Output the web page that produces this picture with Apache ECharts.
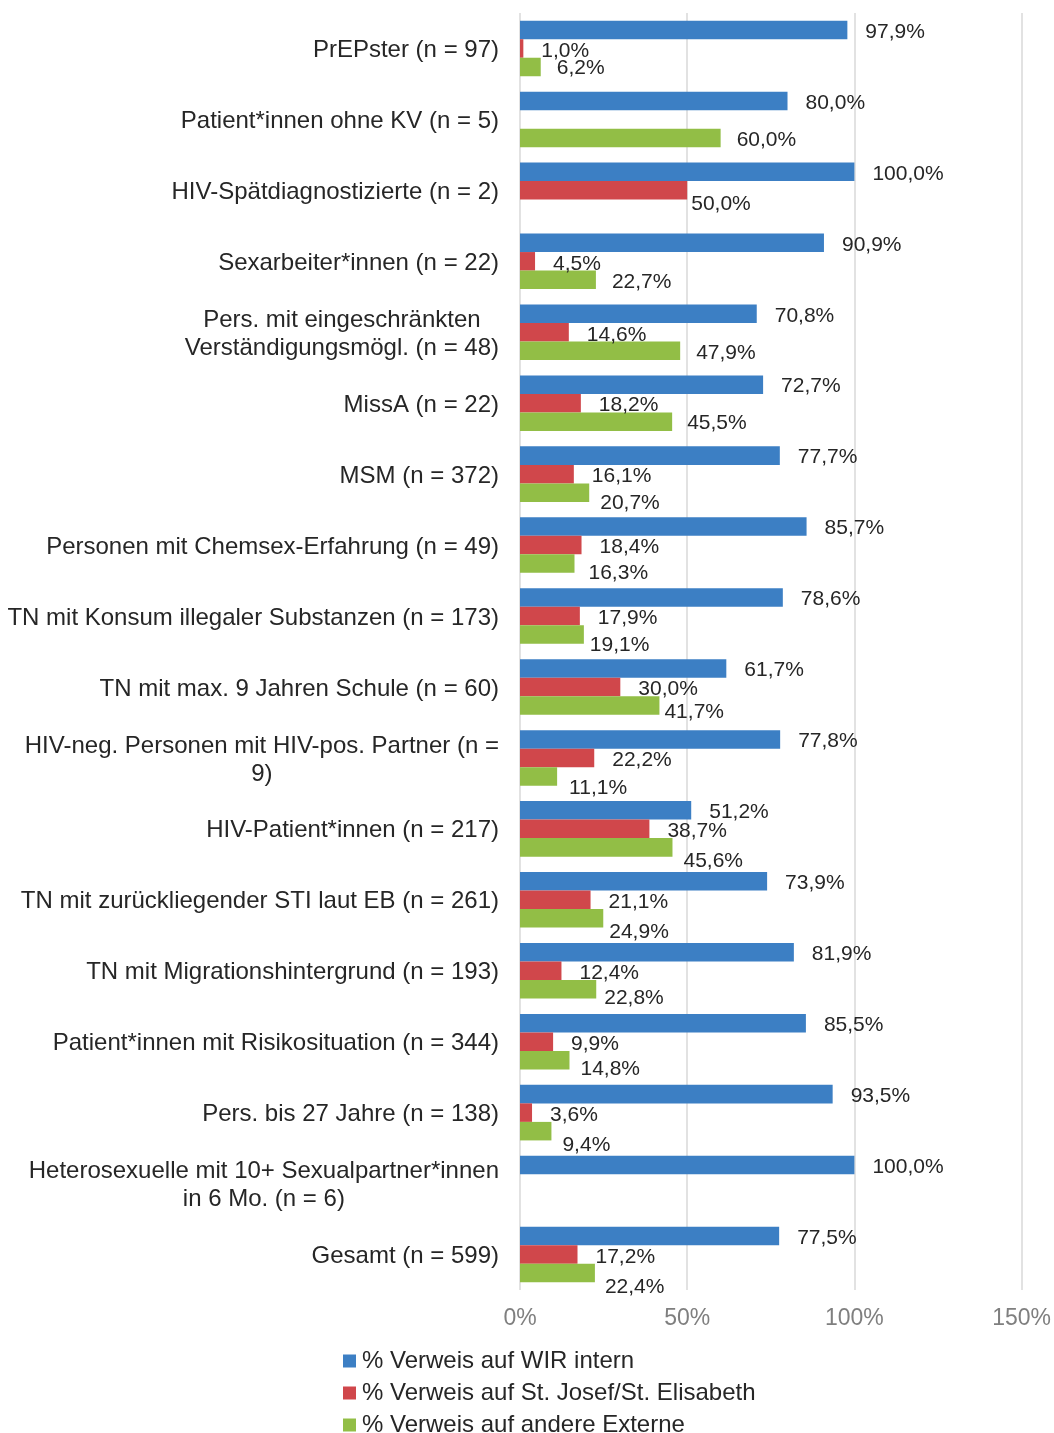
<!DOCTYPE html>
<html>
<head>
<meta charset="utf-8">
<script src="https://cdn.jsdelivr.net/npm/echarts@6/dist/echarts.min.js"></script>
<style>
html,body{margin:0;padding:0;background:#fff;}
#chart{width:1054px;height:1433px;}
</style>
</head>
<body>
<div id="chart"></div>
<script>
const categories = [
  "PrEPster (n = 97)",
  "Patient*innen ohne KV (n = 5)",
  "HIV-Spätdiagnostizierte (n = 2)",
  "Sexarbeiter*innen (n = 22)",
  "Pers. mit eingeschränkten\nVerständigungsmögl. (n = 48)",
  "MissA (n = 22)",
  "MSM (n = 372)",
  "Personen mit Chemsex-Erfahrung (n = 49)",
  "TN mit Konsum illegaler Substanzen (n = 173)",
  "TN mit max. 9 Jahren Schule (n = 60)",
  "HIV-neg. Personen mit HIV-pos. Partner (n =\n9)",
  "HIV-Patient*innen (n = 217)",
  "TN mit zurückliegender STI laut EB (n = 261)",
  "TN mit Migrationshintergrund (n = 193)",
  "Patient*innen mit Risikosituation (n = 344)",
  "Pers. bis 27 Jahre (n = 138)",
  "Heterosexuelle mit 10+ Sexualpartner*innen\nin 6 Mo. (n = 6)",
  "Gesamt (n = 599)"
];
const seriesNames = [
  "% Verweis auf WIR intern",
  "% Verweis auf St. Josef/St. Elisabeth",
  "% Verweis auf andere Externe"
];
const wirIntern = [97.9, 80.0, 100.0, 90.9, 70.8, 72.7, 77.7, 85.7, 78.6, 61.7, 77.8, 51.2, 73.9, 81.9, 85.5, 93.5, 100.0, 77.5];
const stJosef   = [1.0, 0, 50.0, 4.5, 14.6, 18.2, 16.1, 18.4, 17.9, 30.0, 22.2, 38.7, 21.1, 12.4, 9.9, 3.6, 0, 17.2];
const andereExterne = [6.2, 60.0, 0, 22.7, 47.9, 45.5, 20.7, 16.3, 19.1, 41.7, 11.1, 45.6, 24.9, 22.8, 14.8, 9.4, 0, 22.4];
const xTicks = [0, 50, 100, 150];

// label layout nudges (styling only, not data)
const greenDx = [-2,-2,0,-2,-2,-3,-7,-4,-12,-13,-6,-7,-12,-10,-7,-7,0,-8];
const greenDy = [1.5,2,0,2,2,1,11,10,11,7,12,14,14,9,9,14,0,14];

const colors = ['#3C7FC4', '#D0474B', '#92BE46'];
const FONT = '"Liberation Sans", Arial, sans-serif';

function fmt(v) {
  if (!v) return '';
  return v.toFixed(1).replace('.', ',') + '%';
}

function buildData(values, dxArr, dyArr, baseDy) {
  return values.map((v, i) => ({
    value: v,
    label: { offset: [dxArr ? dxArr[i] : 0, dyArr ? dyArr[i] : baseDy] }
  }));
}

const redData = buildData(stJosef, null, null, 2.5);
redData[2].label.offset = [-14, 14];

const chart = echarts.init(document.getElementById('chart'));
const labelCommon = {
  show: true,
  position: 'right',
  distance: 18,
  fontSize: 21,
  fontFamily: FONT,
  color: '#262626',
  formatter: p => fmt(p.value)
};

chart.setOption({
  backgroundColor: '#ffffff',
  animation: false,
  grid: { left: 520, right: 31, top: 13, bottom: 143, containLabel: false },
  legend: {
    orient: 'vertical',
    left: 338,
    top: 1344,
    height: 150,
    itemWidth: 13,
    itemHeight: 13,
    itemGap: 8,
    icon: 'rect',
    textStyle: { fontSize: 24, fontFamily: FONT, color: '#262626', lineHeight: 24, padding: [0,0,0,1] },
    data: seriesNames
  },
  xAxis: {
    type: 'value',
    min: xTicks[0],
    max: xTicks[xTicks.length - 1],
    interval: 50,
    axisLine: { show: false },
    axisTick: { show: false },
    splitLine: { show: true, lineStyle: { color: '#d9d9d9', width: 1.5 } },
    axisLabel: {
      margin: 17,
      fontSize: 23,
      fontFamily: FONT,
      color: '#7f7f7f',
      formatter: v => v + '%'
    }
  },
  yAxis: {
    type: 'category',
    inverse: true,
    data: categories,
    axisLine: { show: false },
    axisTick: { show: false },
    axisLabel: {
      interval: 0,
      margin: 21,
      fontSize: 24,
      fontFamily: FONT,
      color: '#262626',
      lineHeight: 28,
      padding: [4, 0, 0, 0],
      formatter: function (val) {
        if (val.indexOf('\n') < 0) return val;
        return val.split('\n').map(l => '{c|' + l + '}').join('\n');
      },
      rich: {
        c: { align: 'center', fontSize: 24, fontFamily: FONT, color: '#262626', lineHeight: 28 }
      }
    }
  },
  series: [
    {
      name: seriesNames[0], type: 'bar', data: buildData(wirIntern, null, null, 2),
      itemStyle: { color: colors[0] }, barGap: '0%', barCategoryGap: '21.7%',
      label: labelCommon
    },
    {
      name: seriesNames[1], type: 'bar', data: redData,
      itemStyle: { color: colors[1] }, barGap: '0%', barCategoryGap: '21.7%',
      label: labelCommon
    },
    {
      name: seriesNames[2], type: 'bar', data: buildData(andereExterne, greenDx, greenDy, 0),
      itemStyle: { color: colors[2] }, barGap: '0%', barCategoryGap: '21.7%',
      label: labelCommon
    }
  ]
});
</script>
</body>
</html>
